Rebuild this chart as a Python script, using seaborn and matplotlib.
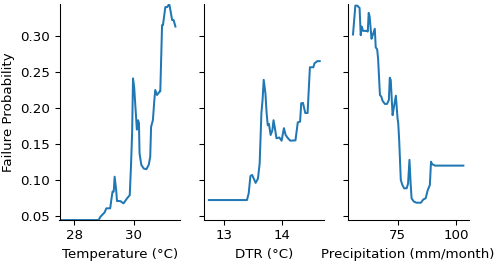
import numpy as np
import pandas as pd
import seaborn as sns
import matplotlib
matplotlib.use("Agg")
import matplotlib.pyplot as plt

# partial dependence curves
temp_x = [27.53, 28.82, 28.88, 29.02, 29.08, 29.21, 29.25, 29.29, 29.33, 29.36, 29.41, 29.44,
          29.55, 29.66, 29.78, 29.87, 29.91, 29.95, 29.98, 30.02, 30.11, 30.15, 30.18, 30.20,
          30.26, 30.34, 30.43, 30.51, 30.56, 30.59, 30.65, 30.70, 30.73, 30.79, 30.88, 30.90,
          30.96, 30.99, 31.07, 31.13, 31.18, 31.21, 31.30, 31.35, 31.41]
temp_y = [0.0444, 0.0444, 0.049, 0.055, 0.0607, 0.0607, 0.073, 0.084, 0.084, 0.1046, 0.087, 0.0708,
          0.0708, 0.0676, 0.0746, 0.079, 0.118, 0.165, 0.241, 0.228, 0.170, 0.183, 0.179, 0.137,
          0.121, 0.116, 0.115, 0.121, 0.132, 0.174, 0.183, 0.211, 0.225, 0.218, 0.223, 0.223,
          0.315, 0.315, 0.340, 0.340, 0.343, 0.343, 0.322, 0.322, 0.313]

dtr_x = [12.73, 13.39, 13.42, 13.45, 13.48, 13.54, 13.58, 13.61, 13.64, 13.66, 13.68, 13.71,
         13.73, 13.75, 13.77, 13.80, 13.83, 13.85, 13.88, 13.90, 13.95, 13.99, 14.03, 14.06,
         14.10, 14.14, 14.23, 14.27, 14.31, 14.33, 14.36, 14.40, 14.44, 14.48, 14.54, 14.56,
         14.61, 14.65]
dtr_y = [0.0722, 0.0722, 0.0815, 0.1056, 0.107, 0.096, 0.102, 0.123, 0.193, 0.211, 0.239, 0.220,
         0.193, 0.176, 0.178, 0.1625, 0.169, 0.183, 0.169, 0.158, 0.159, 0.1546, 0.172, 0.1625,
         0.158, 0.1546, 0.155, 0.180, 0.181, 0.2065, 0.207, 0.193, 0.193, 0.2565, 0.2565, 0.262,
         0.265, 0.265]

prec_x = [56.0, 57.0, 57.9, 58.4, 58.8, 59.3, 59.7, 60.3, 62.0, 62.3, 62.7, 63.1, 63.9, 64.4,
          65.3, 65.7, 66.3, 66.7, 67.5, 68.1, 68.6, 69.6, 70.5, 71.3, 71.7, 72.1, 72.9, 73.5,
          74.3, 75.0, 75.3, 75.7, 76.4, 77.1, 77.8, 78.9, 79.5, 80.1, 80.6, 81.0, 82.0, 83.1,
          85.0, 86.0, 87.0, 87.9, 88.8, 89.3, 89.8, 91.0, 103.1]
prec_y = [0.302, 0.342, 0.342, 0.340, 0.339, 0.301, 0.313, 0.307, 0.307, 0.306, 0.332, 0.327,
          0.296, 0.301, 0.310, 0.284, 0.2815, 0.269, 0.218, 0.2157, 0.210, 0.2056, 0.2056, 0.211,
          0.242, 0.239, 0.190, 0.202, 0.217, 0.186, 0.179, 0.156, 0.100, 0.093, 0.0885, 0.0885,
          0.095, 0.128, 0.095, 0.0746, 0.070, 0.0685, 0.0685, 0.073, 0.0746, 0.086, 0.093, 0.1254,
          0.122, 0.120, 0.120]

labels = ["Temperature (°C)", "DTR (°C)", "Precipitation (mm/month)"]
xlims = [(27.5, 31.57), (12.64, 14.73), (53.8, 105.3)]
xticks = [[28, 30], [13, 14], [75, 100]]

fig, axes = plt.subplots(1, 3, figsize=(500 / 96, 262 / 96), dpi=96, sharey=True)
fig.subplots_adjust(left=0.119, right=0.937, bottom=0.16, top=0.985, wspace=0.195)

curves = [(temp_x, temp_y), (dtr_x, dtr_y), (prec_x, prec_y)]
for ax, (xs, ys), lab, xl, xt in zip(axes, curves, labels, xlims, xticks):
    df = pd.DataFrame({"x": xs, "y": ys})
    sns.lineplot(data=df, x="x", y="y", ax=ax, color="#1f77b4", linewidth=1.5, sort=False)
    ax.set_xlabel(lab)
    ax.set_ylabel("")
    ax.set_xlim(xl)
    ax.set_xticks(xt)
    sns.despine(ax=ax)

axes[0].set_ylim(0.0444, 0.3444)
axes[0].set_yticks([0.05, 0.10, 0.15, 0.20, 0.25, 0.30])
axes[0].set_ylabel("Failure Probability")

fig.savefig("out.png", dpi=96)
